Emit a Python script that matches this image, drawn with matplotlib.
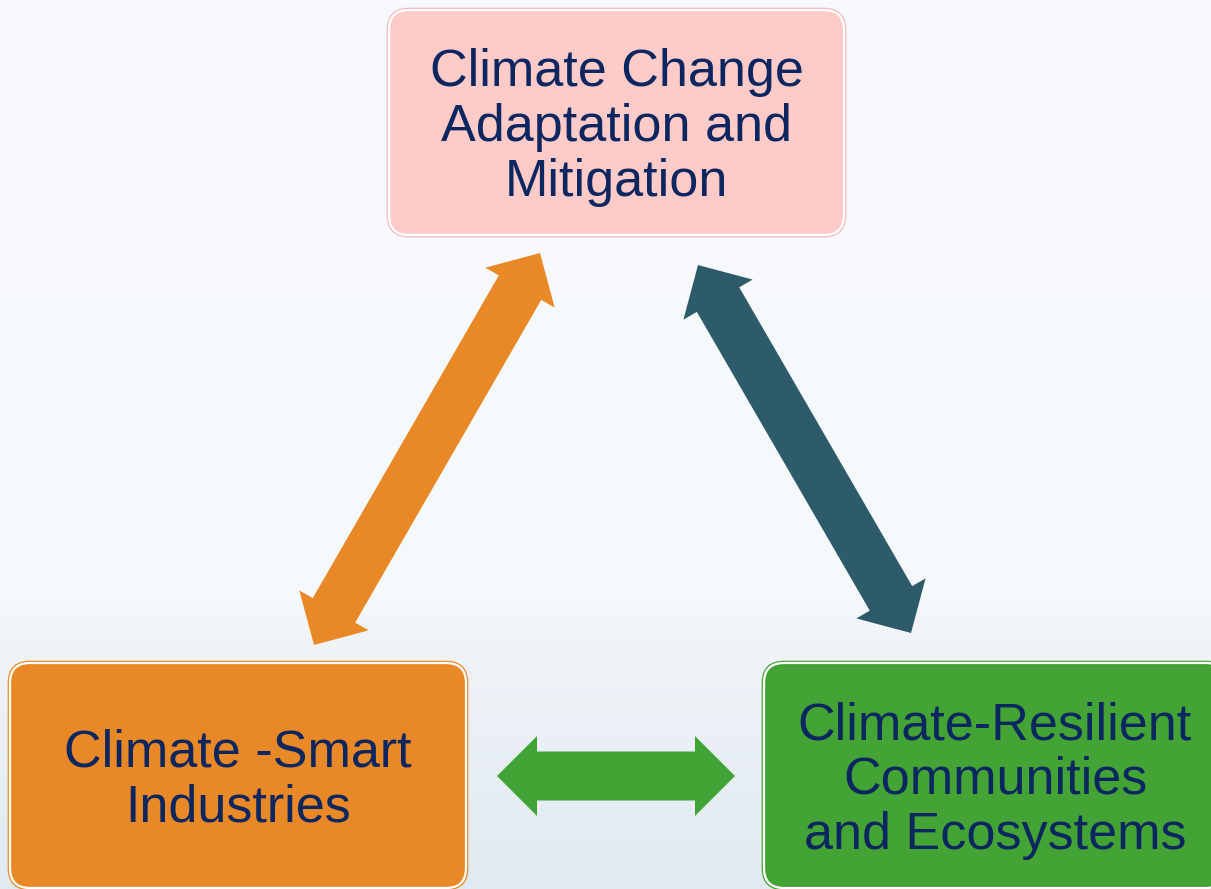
import numpy as np
import matplotlib
matplotlib.use("Agg")
import matplotlib.pyplot as plt
from matplotlib.patches import FancyBboxPatch, Polygon

# ---- data ----
box_labels = [
    ["Climate Change", "Adaptation and", "Mitigation"],
    ["Climate -Smart", "Industries"],
    ["Climate-Resilient", "Communities", "and Ecosystems"],
]
box_colors = ["#ffcbc9", "#e98826", "#43a334"]
box_edge_colors = ["#f7b9b5", "#e98826", "#43a334"]
# box extents (x0, y0, x1, y1) in pixel-like units, y downwards
box_x0 = [389, 10, 764]
box_y0 = [10, 663, 663]
box_x1 = [844, 466, 1226]
box_y1 = [235, 888, 888]

arrow_colors = ["#e98826", "#2e5b6a", "#43a334"]
arrow_start_x = [314, 698, 497]
arrow_start_y = [645, 265, 776]
arrow_end_x = [540, 911, 735]
arrow_end_y = [253, 633, 776]

text_color = "#0c2660"

W, H = 1211, 889
fig = plt.figure(figsize=(W / 100, H / 100), dpi=100)
ax = fig.add_axes([0, 0, 1, 1])
ax.set_xlim(0, W)
ax.set_ylim(H, 0)
ax.axis("off")

# background gradient
ys = np.array([0, 300, 600, 615, 889])
cols = np.array([
    [249, 249, 254],
    [247, 250, 252],
    [246, 249, 251],
    [242, 245, 250],
    [224, 234, 240],
]) / 255.0
yy = np.arange(H)
grad = np.stack([np.interp(yy, ys, cols[:, c]) for c in range(3)], axis=1)
img = np.repeat(grad[:, None, :], W, axis=1)
ax.imshow(img, extent=[0, W, H, 0], aspect="auto", zorder=0)

# boxes
for lines, fc, ec, x0, y0, x1, y1 in zip(box_labels, box_colors, box_edge_colors,
                                         box_x0, box_y0, box_x1, box_y1):
    r = 20
    outer = FancyBboxPatch((x0 - 1.5, y0 - 1.5), (x1 - x0) + 3, (y1 - y0) + 3,
                           boxstyle=f"round,pad=0,rounding_size={r + 1.5}",
                           facecolor="none", edgecolor=ec, linewidth=1.2, zorder=2)
    inner = FancyBboxPatch((x0, y0), x1 - x0, y1 - y0,
                           boxstyle=f"round,pad=0,rounding_size={r}",
                           facecolor=fc, edgecolor="white", linewidth=1.6, zorder=3)
    ax.add_patch(outer)
    ax.add_patch(inner)
    cx = (x0 + x1) / 2
    cy = (y0 + y1) / 2
    n = len(lines)
    spacing = 55
    cap = 37
    for i, line in enumerate(lines):
        yb = cy + (i - (n - 1) / 2) * spacing + cap / 2
        ax.text(cx, yb, line, ha="center", va="baseline", fontsize=37.5,
                family="Liberation Sans", color=text_color, zorder=5)

# double-headed arrows as single polygons
shaft_w, head_w, head_l = 49, 80, 40


def double_arrow(xs, ys_, xe, ye):
    p0 = np.array([xs, ys_], float)
    p1 = np.array([xe, ye], float)
    d = p1 - p0
    L = np.hypot(*d)
    u = d / L
    n = np.array([-u[1], u[0]])
    b0 = p0 + u * head_l
    b1 = p1 - u * head_l
    pts = [
        p0,
        b0 + n * head_w / 2,
        b0 + n * shaft_w / 2,
        b1 + n * shaft_w / 2,
        b1 + n * head_w / 2,
        p1,
        b1 - n * head_w / 2,
        b1 - n * shaft_w / 2,
        b0 - n * shaft_w / 2,
        b0 - n * head_w / 2,
    ]
    return np.array(pts)


for c, xs, ys_, xe, ye in zip(arrow_colors, arrow_start_x, arrow_start_y,
                              arrow_end_x, arrow_end_y):
    ax.add_patch(Polygon(double_arrow(xs, ys_, xe, ye), closed=True,
                         facecolor=c, edgecolor="none", zorder=4))

fig.savefig("out.png", dpi=100)
